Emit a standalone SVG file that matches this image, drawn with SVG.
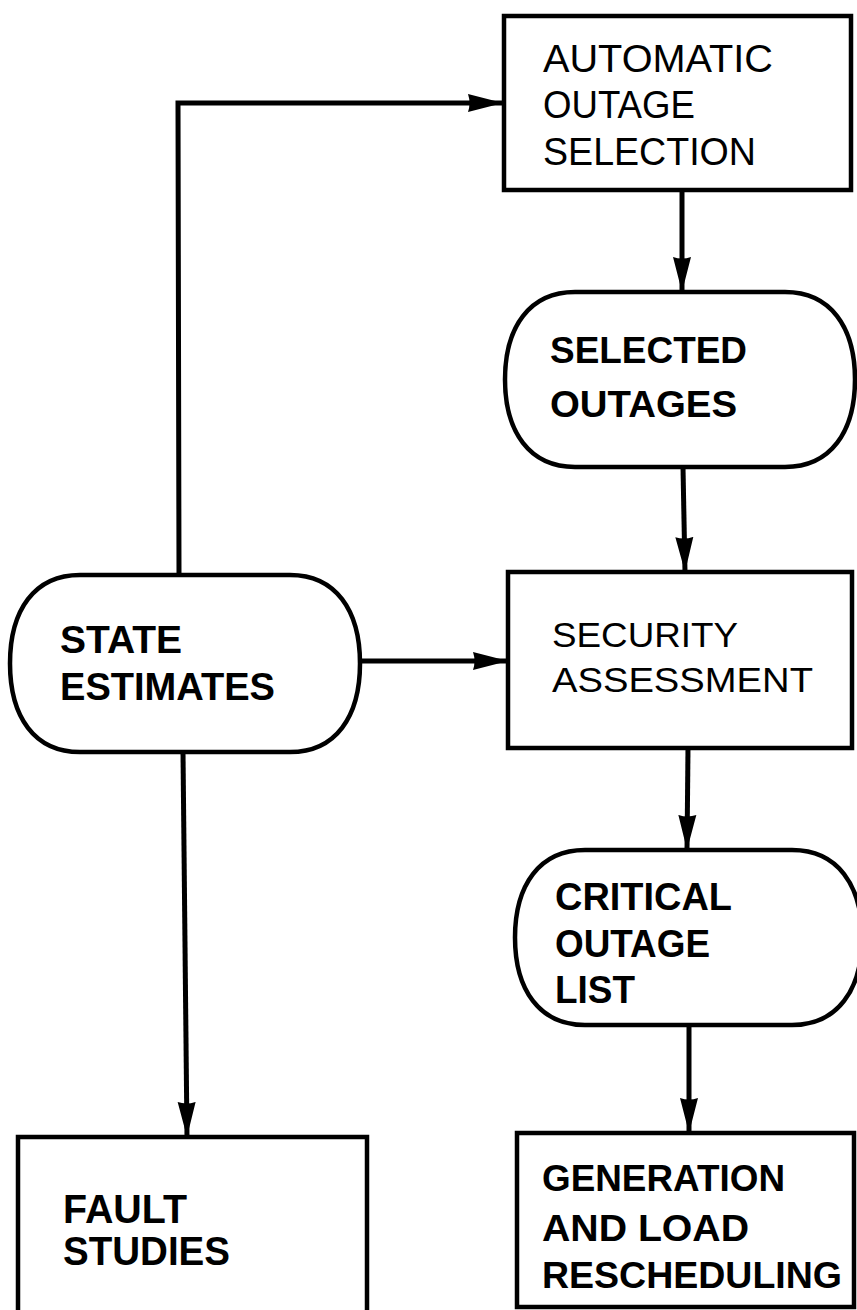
<svg xmlns="http://www.w3.org/2000/svg" width="857" height="1310" viewBox="0 0 857 1310">
<style>
.shape{fill:#fff;stroke:#000;stroke-width:4.5}
.conn{fill:none;stroke:#000;stroke-width:5}
.reg{font-family:"Liberation Sans",Arial,sans-serif;font-weight:normal;fill:#000}
.bold{font-family:"Liberation Sans",Arial,sans-serif;font-weight:bold;fill:#000}
</style>
<defs>
<marker id="ah" markerUnits="userSpaceOnUse" markerWidth="38" markerHeight="22" refX="35" refY="11" orient="auto">
<path d="M0,2 L35,11 L0,20 Q3,11 0,2 Z" fill="#000"/>
</marker>
</defs>
<rect width="857" height="1310" fill="#fff"/>
<g id="connectors">
<path class="conn" d="M179,575 L178,103 L503,103" marker-end="url(#ah)"/>
<path class="conn" d="M682,190 L682,292" marker-end="url(#ah)"/>
<path class="conn" d="M683,467 L685,572" marker-end="url(#ah)"/>
<path class="conn" d="M360,661 L508,661" marker-end="url(#ah)"/>
<path class="conn" d="M688,748 L687,850" marker-end="url(#ah)"/>
<path class="conn" d="M689,1025 L689,1133" marker-end="url(#ah)"/>
<path class="conn" d="M183,752 L187,1137" marker-end="url(#ah)"/>
</g>
<g id="automatic-outage-selection">
<rect class="shape" x="504" y="16" width="347" height="174"/>
<text class="reg" font-size="39" x="543" y="72" textLength="230" lengthAdjust="spacingAndGlyphs">AUTOMATIC</text>
<text class="reg" font-size="39" x="543" y="118" textLength="152" lengthAdjust="spacingAndGlyphs">OUTAGE</text>
<text class="reg" font-size="39" x="543" y="165" textLength="213" lengthAdjust="spacingAndGlyphs">SELECTION</text>
</g>
<g id="selected-outages">
<path class="shape" d="M575,292 H785 C830.5,292 855,327 855,379.5 C855,432 830.5,467 785,467 H575 C529.5,467 505,432 505,379.5 C505,327 529.5,292 575,292 Z"/>
<text class="bold" font-size="36" x="550" y="363" textLength="197" lengthAdjust="spacingAndGlyphs">SELECTED</text>
<text class="bold" font-size="36" x="550" y="417" textLength="187" lengthAdjust="spacingAndGlyphs">OUTAGES</text>
</g>
<g id="state-estimates">
<path class="shape" d="M80,575 H290 C335.5,575 360,610 360,663.5 C360,717 335.5,752 290,752 H80 C34.5,752 10,717 10,663.5 C10,610 34.5,575 80,575 Z"/>
<text class="bold" font-size="38" x="60" y="653" textLength="122" lengthAdjust="spacingAndGlyphs">STATE</text>
<text class="bold" font-size="38" x="60" y="700" textLength="215" lengthAdjust="spacingAndGlyphs">ESTIMATES</text>
</g>
<g id="security-assessment">
<rect class="shape" x="508" y="572" width="344" height="176"/>
<text class="reg" font-size="35" x="552" y="647" textLength="186" lengthAdjust="spacingAndGlyphs">SECURITY</text>
<text class="reg" font-size="35" x="552" y="692" textLength="261" lengthAdjust="spacingAndGlyphs">ASSESSMENT</text>
</g>
<g id="critical-outage-list">
<path class="shape" d="M585,850 H792 C837.5,850 862,885 862,937.5 C862,990 837.5,1025 792,1025 H585 C539.5,1025 515,990 515,937.5 C515,885 539.5,850 585,850 Z"/>
<text class="bold" font-size="38" x="555" y="910" textLength="177" lengthAdjust="spacingAndGlyphs">CRITICAL</text>
<text class="bold" font-size="38" x="555" y="957" textLength="155" lengthAdjust="spacingAndGlyphs">OUTAGE</text>
<text class="bold" font-size="38" x="555" y="1003" textLength="80" lengthAdjust="spacingAndGlyphs">LIST</text>
</g>
<g id="generation-load-rescheduling">
<rect class="shape" x="517" y="1133" width="337" height="174"/>
<text class="bold" font-size="36" x="542" y="1191" textLength="243" lengthAdjust="spacingAndGlyphs">GENERATION</text>
<text class="bold" font-size="36" x="542" y="1241" textLength="207" lengthAdjust="spacingAndGlyphs">AND  LOAD</text>
<text class="bold" font-size="36" x="542" y="1288" textLength="300" lengthAdjust="spacingAndGlyphs">RESCHEDULING</text>
</g>
<g id="fault-studies">
<rect class="shape" x="18" y="1137" width="349" height="190"/>
<text class="bold" font-size="40" x="63" y="1223" textLength="124" lengthAdjust="spacingAndGlyphs">FAULT</text>
<text class="bold" font-size="40" x="63" y="1265" textLength="167" lengthAdjust="spacingAndGlyphs">STUDIES</text>
</g>
</svg>
